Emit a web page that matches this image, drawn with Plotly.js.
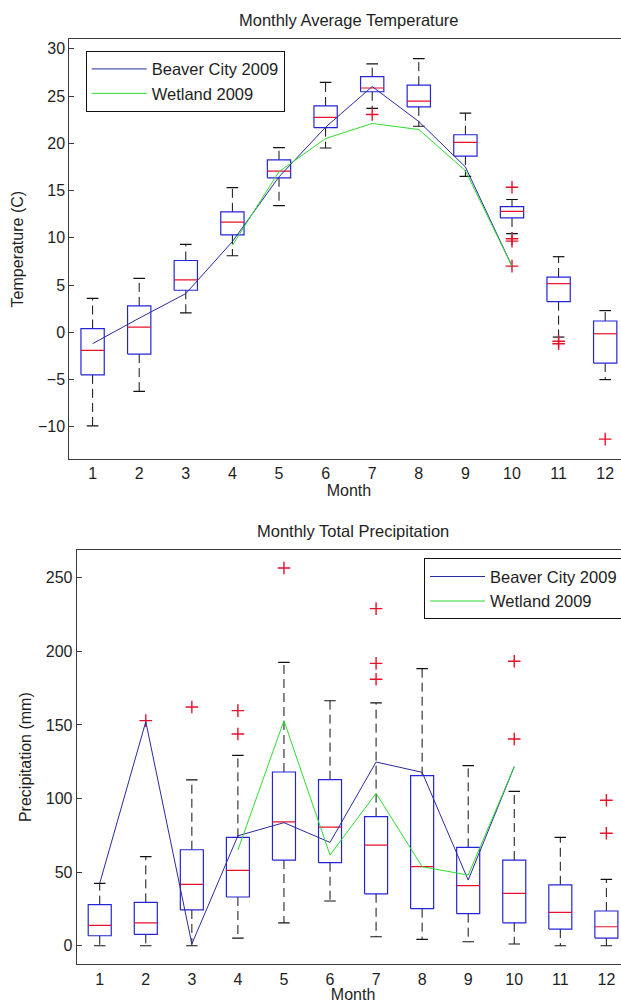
<!DOCTYPE html>
<html>
<head>
<meta charset="utf-8">
<script src="https://cdn.plot.ly/plotly-3.0.1.min.js"></script>
<style>
html, body { margin: 0; padding: 0; overflow: hidden; background: #fff; }
#chart { width: 700px; height: 1003px; }
</style>
</head>
<body>
<div id="chart"></div>
<script>
// ---------- Data ----------
const months = [1, 2, 3, 4, 5, 6, 7, 8, 9, 10, 11, 12];
const monthLabels = ['1', '2', '3', '4', '5', '6', '7', '8', '9', '10', '11', '12'];

// Monthly Average Temperature (C) - box statistics
const tempUpper  = [3.6, 5.7, 9.3, 15.3, 19.55, 26.45, 28.4, 28.95, 23.2, 14.05, 8.0, 2.3];
const tempQ3     = [0.4, 2.8, 7.6, 12.75, 18.25, 23.95, 27.05, 26.15, 20.9, 13.3, 5.85, 1.2];
const tempMedian = [-1.9, 0.55, 5.55, 11.65, 17.05, 22.75, 25.85, 24.45, 20.1, 12.8, 5.15, -0.15];
const tempQ1     = [-4.5, -2.3, 4.45, 10.3, 16.35, 21.65, 25.45, 23.85, 18.65, 12.1, 3.25, -3.25];
const tempLower  = [-9.9, -6.25, 2.05, 8.1, 13.4, 19.5, 23.7, 21.8, 16.5, 10.45, -0.5, -5.0];
const tempOutMonth = [7, 10, 10, 10, 10, 11, 11, 12];
const tempOutValue = [23.05, 15.35, 9.9, 9.65, 7.0, -0.95, -1.2, -11.3];

const tempBeaverMonth = [1, 2, 3, 4, 5, 6, 7, 8, 9, 10];
const tempBeaver      = [-1.2, 1.5, 4.1, 9.6, 16.45, 21.7, 26.0, 22.3, 17.5, 7.0];
const tempWetlandMonth = [4, 5, 6, 7, 8, 9, 10];
const tempWetland      = [9.2, 17.0, 20.5, 22.1, 21.45, 17.1, 7.0];

// Monthly Total Precipitation (mm) - box statistics
const precUpper  = [42.4, 60.5, 112.6, 129.3, 192.5, 166.4, 164.9, 188.2, 122.3, 104.9, 73.6, 45.1];
const precQ3     = [27.9, 29.5, 65.2, 73.6, 118.0, 112.8, 87.7, 115.5, 66.8, 58.2, 41.4, 23.6];
const precMedian = [13.8, 15.6, 41.7, 51.2, 84.2, 80.6, 68.4, 53.7, 40.8, 35.6, 22.7, 12.9];
const precQ1     = [6.8, 7.7, 24.3, 33.1, 58.2, 56.4, 35.3, 25.2, 21.8, 15.6, 11.3, 5.2];
const precLower  = [0, 0, 0, 5.2, 15.6, 30.4, 6.1, 4.3, 2.7, 1.2, 0, 0];
const precOutMonth = [2, 3, 4, 4, 5, 7, 7, 7, 10, 10, 12, 12];
const precOutValue = [152.9, 162.2, 159.7, 143.8, 256.6, 229.0, 191.8, 181.0, 193.2, 140.4, 98.8, 76.4];

const precBeaverMonth = [1, 2, 3, 4, 5, 6, 7, 8, 9, 10];
const precBeaver      = [42.4, 152.2, 1.2, 74.7, 83.6, 70.2, 124.8, 117.8, 44.6, 121.6];
const precWetlandMonth = [4, 5, 6, 7, 8, 9, 10];
const precWetland      = [65.0, 152.9, 61.6, 103.5, 53.7, 48.0, 121.6];

// ---------- Styling ----------
const FONT = 'Liberation Sans, Arial, Helvetica, sans-serif';
const TEXT = '#1e1e1e';
const BOX_BLUE = '#2424d8';
const LINE_BLUE = '#2a2a9e';
const GREEN = '#2edc2e';
const RED = '#e8102a';
const HALF = 0.25;   // half box width
const CAP = 0.125;   // half cap width

function boxTraces(q1, med, q3, lo, hi, outM, outV, xa, ya) {
  const bx = [], by = [], mx = [], my = [], wx = [], wy = [], cx = [], cy = [];
  months.forEach((m, i) => {
    bx.push(m - HALF, m + HALF, m + HALF, m - HALF, m - HALF, null);
    by.push(q1[i], q1[i], q3[i], q3[i], q1[i], null);
    mx.push(m - HALF, m + HALF, null);
    my.push(med[i], med[i], null);
    wx.push(m, m, null, m, m, null);
    wy.push(q3[i], hi[i], null, q1[i], lo[i], null);
    cx.push(m - CAP, m + CAP, null, m - CAP, m + CAP, null);
    cy.push(hi[i], hi[i], null, lo[i], lo[i], null);
  });
  const common = {xaxis: xa, yaxis: ya, showlegend: false, hoverinfo: 'skip', type: 'scatter'};
  return [
    Object.assign({x: wx, y: wy, mode: 'lines', line: {color: '#111', width: 1, dash: '9px,5px'}}, common),
    Object.assign({x: cx, y: cy, mode: 'lines', line: {color: '#111', width: 1.2}}, common),
    Object.assign({x: bx, y: by, mode: 'lines', line: {color: BOX_BLUE, width: 1.2}}, common),
    Object.assign({x: mx, y: my, mode: 'lines', line: {color: RED, width: 1.2}}, common),
    Object.assign({x: outM, y: outV, mode: 'markers',
      marker: {symbol: 'cross-thin', size: 9, line: {color: RED, width: 1.4}}}, common)
  ];
}

const data = [].concat(
  boxTraces(tempQ1, tempMedian, tempQ3, tempLower, tempUpper, tempOutMonth, tempOutValue, 'x', 'y'),
  [
    {x: tempBeaverMonth, y: tempBeaver, type: 'scatter', mode: 'lines', name: 'Beaver City 2009',
     line: {color: LINE_BLUE, width: 1}, xaxis: 'x', yaxis: 'y', legend: 'legend'},
    {x: tempWetlandMonth, y: tempWetland, type: 'scatter', mode: 'lines', name: 'Wetland 2009',
     line: {color: GREEN, width: 1}, xaxis: 'x', yaxis: 'y', legend: 'legend'}
  ],
  boxTraces(precQ1, precMedian, precQ3, precLower, precUpper, precOutMonth, precOutValue, 'x2', 'y2'),
  [
    {x: precBeaverMonth, y: precBeaver, type: 'scatter', mode: 'lines', name: 'Beaver City 2009',
     line: {color: LINE_BLUE, width: 1}, xaxis: 'x2', yaxis: 'y2', legend: 'legend2'},
    {x: precWetlandMonth, y: precWetland, type: 'scatter', mode: 'lines', name: 'Wetland 2009',
     line: {color: GREEN, width: 1}, xaxis: 'x2', yaxis: 'y2', legend: 'legend2'}
  ]
);

const W = 700, H = 1003;
function xAxis(left, right, anchor) {
  return {
    domain: [left / W, right / W], anchor: anchor, range: [0.5, 12.5],
    tickmode: 'array', tickvals: months, ticktext: monthLabels,
    ticks: '', showline: true, mirror: true, linecolor: '#3a3a3a', linewidth: 1,
    showgrid: false, zeroline: false, fixedrange: true,
    tickfont: {family: FONT, size: 16, color: TEXT},
    title: {text: 'Month', font: {family: FONT, size: 16, color: TEXT}, standoff: 2}
  };
}
function yAxis(top, bottom, anchor, range, tickvals, title) {
  return {
    domain: [1 - bottom / H, 1 - top / H], anchor: anchor, range: range,
    tickmode: 'array', tickvals: tickvals,
    ticks: 'inside', ticklen: 5, tickcolor: '#3a3a3a',
    showline: true, mirror: 'ticks', linecolor: '#3a3a3a', linewidth: 1,
    showgrid: false, zeroline: false, fixedrange: true,
    tickfont: {family: FONT, size: 16, color: TEXT},
    title: {text: title, font: {family: FONT, size: 16, color: TEXT}, standoff: 10}
  };
}

const legendStyle = {
  bgcolor: '#fff', bordercolor: '#111', borderwidth: 1,
  font: {family: FONT, size: 16.5, color: TEXT},
  itemwidth: 55, tracegroupgap: 0, xanchor: 'left', yanchor: 'top'
};

const layout = {
  width: W, height: H,
  margin: {l: 0, r: 0, t: 0, b: 0},
  paper_bgcolor: '#fff', plot_bgcolor: '#fff',
  font: {family: FONT, size: 16, color: TEXT},
  showlegend: true,
  xaxis: xAxis(69.3, 628.5, 'y'),
  yaxis: yAxis(39.3, 459, 'x', [-13.4, 31], [-10, -5, 0, 5, 10, 15, 20, 25, 30], 'Temperature (C)'),
  xaxis2: xAxis(76.7, 629.4, 'y2'),
  yaxis2: yAxis(550, 964.3, 'x2', [-12.6, 268.8], [0, 50, 100, 150, 200, 250], 'Precipitation (mm)'),
  legend: Object.assign({x: 85.7 / W, y: 1 - 50.7 / H}, legendStyle),
  legend2: Object.assign({x: 424 / W, y: 1 - 558.3 / H}, legendStyle),
  annotations: [
    {text: 'Monthly Average Temperature', xref: 'x domain', yref: 'y domain', x: 0.5, y: 1,
     xanchor: 'center', yanchor: 'bottom', yshift: 8, showarrow: false,
     font: {family: FONT, size: 16.5, color: TEXT}},
    {text: 'Monthly Total Precipitation', xref: 'x2 domain', yref: 'y2 domain', x: 0.5, y: 1,
     xanchor: 'center', yanchor: 'bottom', yshift: 8, showarrow: false,
     font: {family: FONT, size: 16.5, color: TEXT}}
  ]
};

Plotly.newPlot('chart', data, layout, {displayModeBar: false, staticPlot: true});
</script>
</body>
</html>
